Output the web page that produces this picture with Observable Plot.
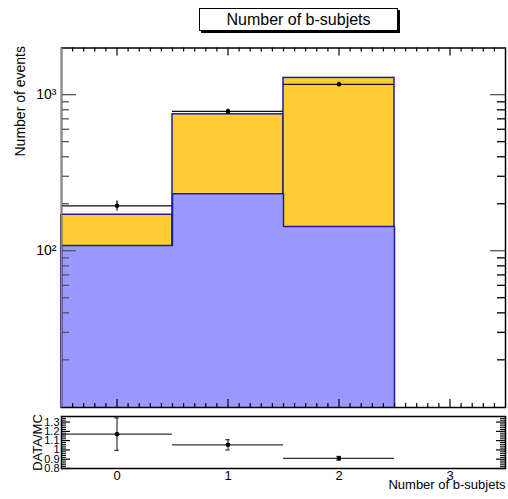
<!DOCTYPE html>
<html><head><meta charset="utf-8">
<script src="https://cdn.jsdelivr.net/npm/d3@7"></script>
<script src="https://cdn.jsdelivr.net/npm/@observablehq/plot@0.6"></script>
<style>
body{margin:0;background:#fff;}
#wrap{position:relative;width:508px;height:499px;font-family:"Liberation Sans",Arial,sans-serif;overflow:hidden;background:#fff;}
#wrap svg{position:absolute;left:0;}
.title{position:absolute;left:199px;top:8px;width:197px;height:21px;border:1px solid #000;box-shadow:2px 2px 0 #000;font-size:16px;text-align:center;line-height:22px;background:#fff;}
</style></head><body><div id="wrap"><div class="title">Number of b-subjets</div></div>
<script>
// ---- data ----
const bins = [0, 1, 2, 3];
const binLow = [-0.5, 0.5, 1.5, 2.5];
const binHigh = [0.5, 1.5, 2.5, 3.5];
const mcTotal = [170, 748, 1280, 0];
const mcSignal = [108, 232, 143, 0];
const dataCounts = [194, 781, 1165, 0];
const dataErr = [14, 28, 34, 0];
const ratioValues = [1.17, 1.055, 0.91];
const ratioErr = [0.175, 0.055, 0.02];
const xTickLabels = ["0", "1", "2", "3"];
const yMajorTicks = [100, 1000];
const yTickLabels = ["10\u00b2", "10\u00b3"];
const ratioTicks = [0.8, 0.9, 1.0, 1.1, 1.2, 1.3];
const ratioTickLabels = ["0.8", "0.9", "1", "1.1", "1.2", "1.3"];

const FONT = "Liberation Sans, Arial, sans-serif";
const W = 508;
const mL = 61, mR = 3;
const innerW = W - mL - mR;
const yMin = 9.9, yMax = 1990;
const navy = "#1c1c9c";

// ---- main pad ----
const H1 = 410, mT1 = 47.5, mB1 = 3;
const innerH1 = H1 - mT1 - mB1;
const filled = bins.filter(i => mcTotal[i] > 0);
const dataIdx = bins.filter(i => dataCounts[i] > 0);
const yMinor = [2,3,4,5,6,7,8,9].flatMap(k => [10 * k, 100 * k, 1000 * k]).filter(v => v > yMin && v < yMax);
const xMinor = d3.range(-4, 35).map(i => i / 10).filter(v => Math.abs(v - Math.round(v)) > 1e-6);
const xMajor = bins;

// blue outline step path
const outline = [{x: binLow[0], y: yMin}];
filled.forEach(i => { outline.push({x: binLow[i], y: mcSignal[i]}); outline.push({x: binHigh[i], y: mcSignal[i]}); });
outline.push({x: binHigh[filled[filled.length - 1]], y: yMin});

const main = Plot.plot({
  width: W, height: H1, marginLeft: mL, marginRight: mR, marginTop: mT1, marginBottom: mB1,
  style: {fontFamily: FONT, background: "transparent", overflow: "visible"},
  x: {domain: [-0.5, 3.5], axis: null},
  y: {type: "log", domain: [yMin, yMax], axis: null},
  marks: [
    Plot.rectY(filled, {x1: i => binLow[i], x2: i => binHigh[i], y1: () => yMin, y2: i => mcTotal[i], fill: "#ffcc33", stroke: navy, strokeWidth: 1.5}),
    Plot.rectY(filled, {x1: i => binLow[i], x2: i => binHigh[i], y1: () => yMin, y2: i => mcSignal[i], fill: "#9999ff"}),
    Plot.line(outline, {x: "x", y: "y", stroke: navy, strokeWidth: 1.5}),
    // data
    Plot.ruleY(dataIdx, {y: i => dataCounts[i], x1: i => binLow[i], x2: i => binHigh[i], stroke: "#111", strokeWidth: 1.3}),
    Plot.ruleX(dataIdx, {x: i => bins[i], y1: i => dataCounts[i] - dataErr[i], y2: i => dataCounts[i] + dataErr[i], stroke: "#111", strokeWidth: 1.3}),
    Plot.dot(dataIdx, {x: i => bins[i], y: i => dataCounts[i], r: 2.3, fill: "#000"}),
    // y ticks (inward, both sides)
    Plot.ruleY(yMajorTicks, {y: d => d, insetRight: innerW - 15, stroke: "#555", strokeWidth: 1.3}),
    Plot.ruleY(yMinor, {y: d => d, insetRight: innerW - 8, stroke: "#555", strokeWidth: 1.3}),
    Plot.ruleY(yMajorTicks, {y: d => d, insetLeft: innerW - 15, stroke: "#555", strokeWidth: 1.3}),
    Plot.ruleY(yMinor, {y: d => d, insetLeft: innerW - 8, stroke: "#000", strokeWidth: 1.3}),
    // x ticks (inward, top and bottom)
    Plot.ruleX(xMajor, {x: d => d, insetBottom: innerH1 - 8, stroke: "#000", strokeWidth: 1.2}),
    Plot.ruleX(xMinor, {x: d => d, insetBottom: innerH1 - 4, stroke: "#000", strokeWidth: 1.2}),
    Plot.ruleX(xMajor, {x: d => d, insetTop: innerH1 - 8, stroke: "#000", strokeWidth: 1.2}),
    Plot.ruleX(xMinor, {x: d => d, insetTop: innerH1 - 4, stroke: "#000", strokeWidth: 1.2}),
    Plot.frame({stroke: "#000", strokeWidth: 1.5}),
    Plot.ruleX([-0.5], {stroke: "#888", strokeWidth: 1.5}),
    // labels
    Plot.text(yMajorTicks, {y: d => d, text: (d, i) => yTickLabels[i], frameAnchor: "left", textAnchor: "end", dx: -5, fontSize: 14, fill: "#000"}),
    Plot.text(["Number of events"], {frameAnchor: "top-left", rotate: -90, textAnchor: "end", dx: -46, dy: -2, fontSize: 14, fill: "#000"})
  ]
});
main.style.top = "0px";
document.getElementById("wrap").appendChild(main);

// ---- ratio pad ----
const H2 = 89, mT2 = 6, mB2 = 31;
const ratioIdx = [0, 1, 2];
const rMinor = d3.range(80, 136, 2).map(v => v / 100).filter(v => Math.abs(v * 10 - Math.round(v * 10)) > 1e-6);
const ratio = Plot.plot({
  width: W, height: H2, marginLeft: mL, marginRight: mR, marginTop: mT2, marginBottom: mB2,
  style: {fontFamily: FONT, background: "transparent", overflow: "visible"},
  x: {domain: [-0.5, 3.5], axis: null},
  y: {domain: [0.8, 1.36], axis: null},
  marks: [
    Plot.ruleY(ratioTicks, {y: d => d, insetRight: innerW - 9, stroke: "#000", strokeWidth: 1.2}),
    Plot.ruleY(rMinor, {y: d => d, insetRight: innerW - 5, stroke: "#000", strokeWidth: 1}),
    Plot.ruleY(ratioTicks, {y: d => d, insetLeft: innerW - 9, stroke: "#000", strokeWidth: 1.2}),
    Plot.ruleY(rMinor, {y: d => d, insetLeft: innerW - 5, stroke: "#000", strokeWidth: 1}),
    Plot.ruleY(ratioIdx, {y: i => ratioValues[i], x1: i => binLow[i], x2: i => binHigh[i], stroke: "#333", strokeWidth: 1.2}),
    Plot.ruleX(ratioIdx, {x: i => bins[i], y1: i => ratioValues[i] - ratioErr[i], y2: i => ratioValues[i] + ratioErr[i], stroke: "#333", strokeWidth: 1.2}),
    Plot.ruleY(ratioIdx, {y: i => ratioValues[i] - ratioErr[i], x1: i => bins[i] - 0.02, x2: i => bins[i] + 0.02, stroke: "#333", strokeWidth: 1.2}),
    Plot.ruleY(ratioIdx, {y: i => ratioValues[i] + ratioErr[i], x1: i => bins[i] - 0.02, x2: i => bins[i] + 0.02, stroke: "#333", strokeWidth: 1.2}),
    Plot.dot(ratioIdx, {x: i => bins[i], y: i => ratioValues[i], r: 2.3, fill: "#000"}),
    Plot.frame({stroke: "#000", strokeWidth: 1.5}),
    Plot.text(ratioTicks, {y: d => d, text: (d, i) => ratioTickLabels[i], frameAnchor: "left", textAnchor: "end", dx: -2, fontSize: 11, fill: "#000"}),
    Plot.text(bins, {x: d => d, text: (d, i) => xTickLabels[i], frameAnchor: "bottom", dy: 11, fontSize: 13, fill: "#000"}),
    Plot.text(["Number of b-subjets"], {frameAnchor: "bottom-right", textAnchor: "end", dy: 20, fontSize: 13, fill: "#000"}),
    Plot.text(["DATA/MC"], {frameAnchor: "left", rotate: -90, textAnchor: "middle", dx: -24, fontSize: 13, fill: "#000"})
  ]
});
ratio.style.top = "410px";
document.getElementById("wrap").appendChild(ratio);
</script>
</body></html>
